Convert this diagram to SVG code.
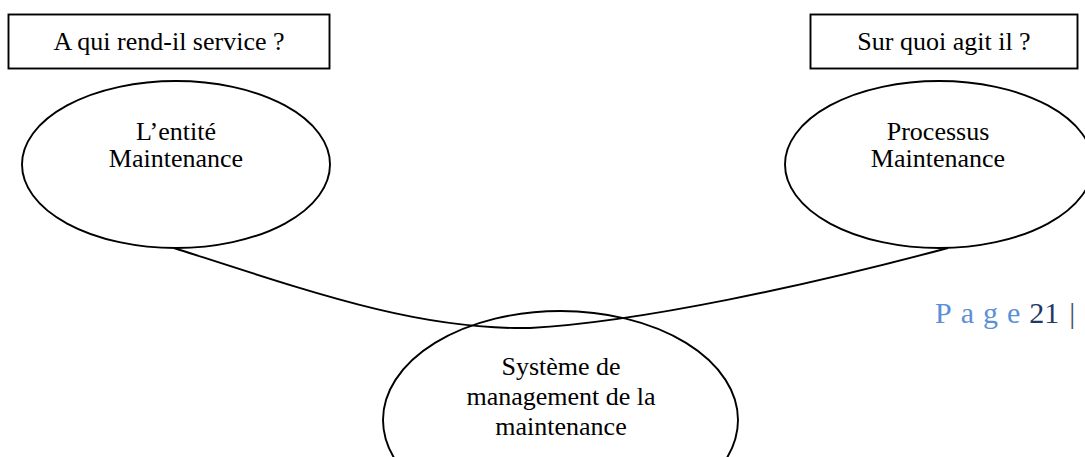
<svg xmlns="http://www.w3.org/2000/svg" width="1085" height="457" viewBox="0 0 1085 457">
<style>
.shape{fill:#fff;stroke:#000;stroke-width:1.9}
.conn{fill:none;stroke:#000;stroke-width:1.9}
.t{font-family:"Liberation Serif","Times New Roman",serif;font-size:26px;fill:#000;text-anchor:middle}
</style>
<rect width="1085" height="457" fill="#fff"/>
<g id="box-service">
<rect class="shape" x="8.5" y="14.5" width="321" height="54"/>
<text class="t" x="169" y="50">A qui rend-il service ?</text>
</g>
<g id="box-agit">
<rect class="shape" x="810.5" y="14.5" width="267" height="54"/>
<text class="t" x="944" y="50">Sur quoi agit il ?</text>
</g>
<g id="connectors">
<path class="conn" d="M174,248 C320,295 420,330 530,328 C640,322 810,285 948,248"/>
</g>
<g id="node-entite">
<ellipse class="shape" cx="176" cy="164.5" rx="154" ry="83.5" style="fill:none"/>
<text class="t" x="176" y="140">L’entité</text>
<text class="t" x="176" y="167">Maintenance</text>
</g>
<g id="node-processus">
<ellipse class="shape" cx="939" cy="164.5" rx="154" ry="83.5" style="fill:none"/>
<text class="t" x="938" y="140">Processus</text>
<text class="t" x="938" y="167">Maintenance</text>
</g>
<g id="node-systeme">
<ellipse class="shape" cx="560.5" cy="420" rx="177.5" ry="109" style="fill:none"/>
<text class="t" x="561" y="375">Système de</text>
<text class="t" x="561" y="405">management de la</text>
<text class="t" x="561" y="435">maintenance</text>
</g>
<g id="page-number">
<text x="935" y="323" style="font-family:'Liberation Serif','Times New Roman',serif;font-size:30px"><tspan fill="#5B8FD6" letter-spacing="9">Page</tspan><tspan fill="#1F3864">21</tspan><tspan fill="#44546A" dx="10">|</tspan></text>
</g>
</svg>
